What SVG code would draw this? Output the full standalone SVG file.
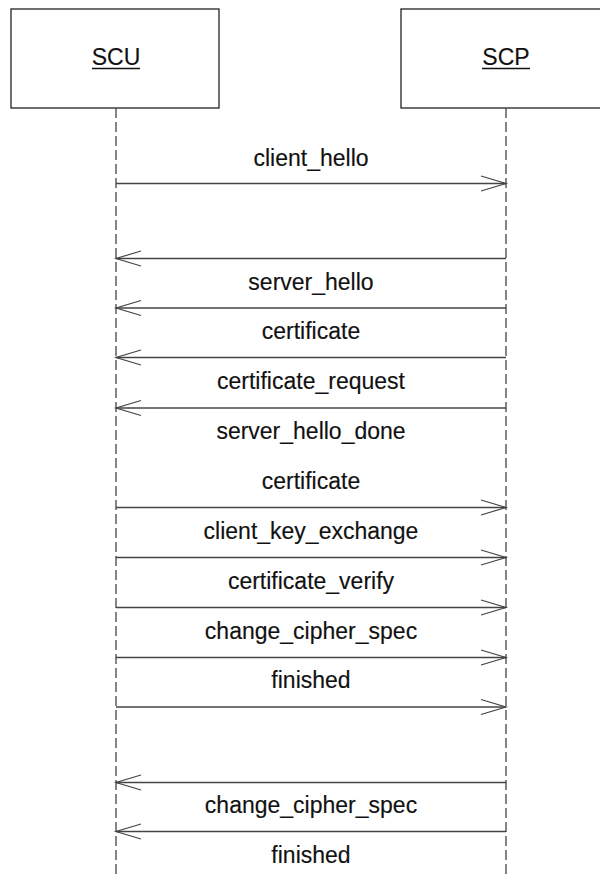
<svg xmlns="http://www.w3.org/2000/svg" width="600" height="876" viewBox="0 0 600 876">
<defs>
<style>
.box{fill:#fff;stroke:#222;stroke-width:1.3}
.life{stroke:#444;stroke-width:1.3;stroke-dasharray:10 4;fill:none}
.msg{stroke:#444;stroke-width:1.4;fill:none}
.head{stroke:#444;stroke-width:1.2;fill:none}
.lbl{font-family:"Liberation Sans",Arial,sans-serif;font-size:23px;fill:#111;text-anchor:middle;stroke:#111;stroke-width:0.15}
.ul{stroke:#111;stroke-width:1.3}
</style>
</defs>
<rect width="600" height="876" fill="#fff"/>
<g id="scu">
<rect class="box" x="11" y="9" width="208" height="99"/>
<text class="lbl" x="116" y="65">SCU</text>
<line class="ul" x1="92" y1="68.5" x2="140" y2="68.5"/>
<line class="life" x1="116" y1="108" x2="116" y2="876"/>
</g>
<g id="scp">
<rect class="box" x="401" y="9" width="210" height="99"/>
<text class="lbl" x="506" y="65">SCP</text>
<line class="ul" x1="482" y1="68.5" x2="530" y2="68.5"/>
<line class="life" x1="506" y1="108" x2="506" y2="876"/>
</g>
<g id="connectors">
<line class="msg" x1="116" y1="183.5" x2="506" y2="183.5"/><polyline class="head" points="481,176 506,183.5 481,191"/>
<line class="msg" x1="116" y1="258.5" x2="506" y2="258.5"/><polyline class="head" points="141,251 116,258.5 141,266"/>
<line class="msg" x1="116" y1="308" x2="506" y2="308"/><polyline class="head" points="141,300.5 116,308 141,315.5"/>
<line class="msg" x1="116" y1="357.5" x2="506" y2="357.5"/><polyline class="head" points="141,350 116,357.5 141,365"/>
<line class="msg" x1="116" y1="408" x2="506" y2="408"/><polyline class="head" points="141,400.5 116,408 141,415.5"/>
<line class="msg" x1="116" y1="507.5" x2="506" y2="507.5"/><polyline class="head" points="481,500 506,507.5 481,515"/>
<line class="msg" x1="116" y1="557.5" x2="506" y2="557.5"/><polyline class="head" points="481,550 506,557.5 481,565"/>
<line class="msg" x1="116" y1="607.5" x2="506" y2="607.5"/><polyline class="head" points="481,600 506,607.5 481,615"/>
<line class="msg" x1="116" y1="657.5" x2="506" y2="657.5"/><polyline class="head" points="481,650 506,657.5 481,665"/>
<line class="msg" x1="116" y1="707" x2="506" y2="707"/><polyline class="head" points="481,699.5 506,707 481,714.5"/>
<line class="msg" x1="116" y1="782.5" x2="506" y2="782.5"/><polyline class="head" points="141,775 116,782.5 141,790"/>
<line class="msg" x1="116" y1="831.5" x2="506" y2="831.5"/><polyline class="head" points="141,824 116,831.5 141,839"/>
</g>
<g id="labels">
<text class="lbl" x="311" y="165.5">client_hello</text>
<text class="lbl" x="311" y="289.5">server_hello</text>
<text class="lbl" x="311" y="339">certificate</text>
<text class="lbl" x="311" y="389">certificate_request</text>
<text class="lbl" x="311" y="439">server_hello_done</text>
<text class="lbl" x="311" y="488.5">certificate</text>
<text class="lbl" x="311" y="539">client_key_exchange</text>
<text class="lbl" x="311" y="588.5">certificate_verify</text>
<text class="lbl" x="311" y="638.5">change_cipher_spec</text>
<text class="lbl" x="311" y="688">finished</text>
<text class="lbl" x="311" y="813">change_cipher_spec</text>
<text class="lbl" x="311" y="862.5">finished</text>
</g>
</svg>
